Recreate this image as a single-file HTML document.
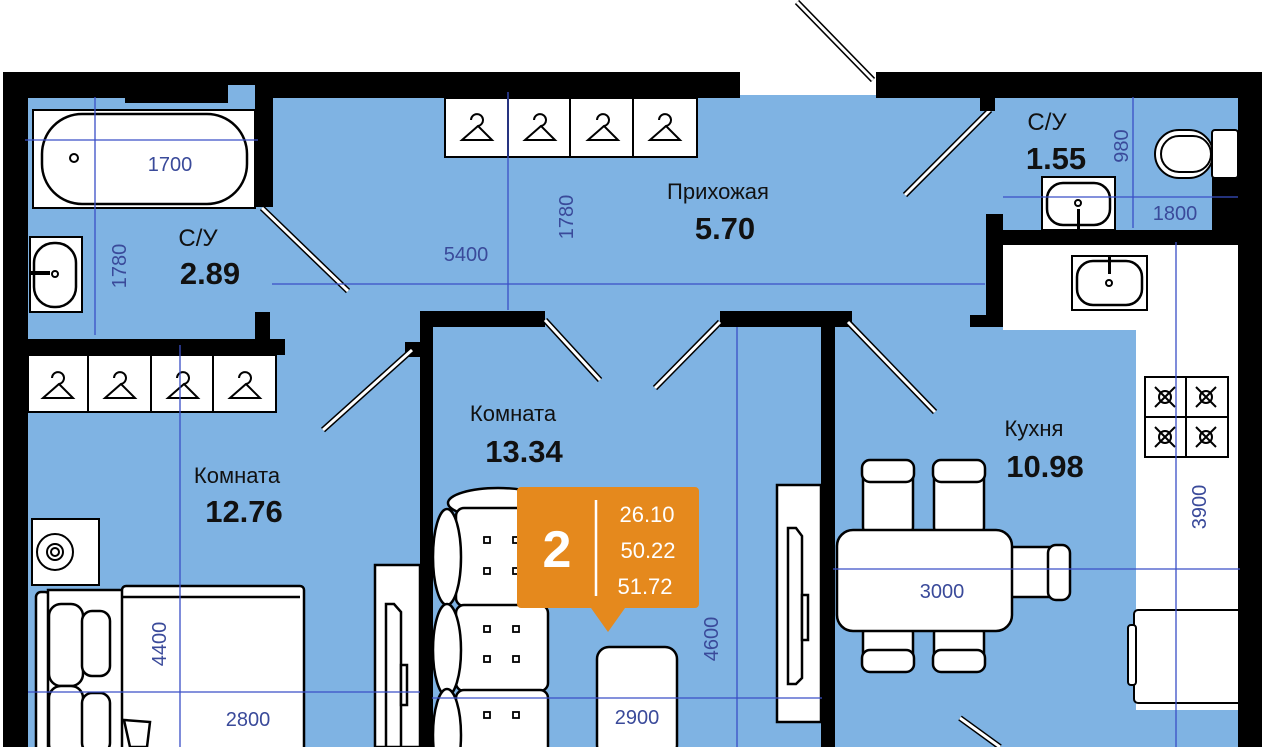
<!DOCTYPE html>
<html><head><meta charset="utf-8"><style>
html,body{margin:0;padding:0;background:#fff;width:1280px;height:747px;overflow:hidden}
svg{display:block}
text{font-family:"Liberation Sans","DejaVu Sans",sans-serif}
</style></head><body>
<svg width="1280" height="747" viewBox="0 0 1280 747" xmlns="http://www.w3.org/2000/svg">
<rect x="28" y="95" width="1212" height="652" fill="#7fb3e3"/>
<rect x="740" y="60" width="136" height="35" fill="#fff"/>
<rect x="3" y="72" width="737" height="26" fill="#000"/>
<rect x="876" y="72" width="386" height="26" fill="#000"/>
<rect x="3" y="72" width="25" height="675" fill="#000"/>
<rect x="1238" y="72" width="24" height="675" fill="#000"/>
<rect x="125" y="95" width="103" height="8" fill="#000"/>
<rect x="228" y="85" width="27" height="13" fill="#7fb3e3"/>
<line x1="797" y1="2" x2="873" y2="80" stroke="#000" stroke-width="6"/>
<line x1="797" y1="2" x2="873" y2="80" stroke="#fff" stroke-width="3"/>
<rect x="255" y="87" width="18" height="120" fill="#000"/>
<rect x="33" y="110" width="222" height="98" fill="#fff" stroke="#000" stroke-width="2"/>
<rect x="42" y="114" width="205" height="90" rx="40" fill="#fff" stroke="#000" stroke-width="2.5"/>
<circle cx="74" cy="158" r="4" fill="none" stroke="#000" stroke-width="2"/>
<rect x="30" y="237" width="52" height="75" fill="#fff" stroke="#000" stroke-width="2"/>
<rect x="34" y="243" width="42" height="64" rx="20" fill="#fff" stroke="#000" stroke-width="2.5"/>
<rect x="30" y="271" width="20" height="4" fill="#000"/>
<circle cx="55" cy="274" r="3" fill="none" stroke="#000" stroke-width="2"/>
<rect x="255" y="312" width="15" height="30" fill="#000"/>
<rect x="28" y="339" width="257" height="16" fill="#000"/>
<line x1="262" y1="208" x2="348" y2="291" stroke="#000" stroke-width="6"/>
<line x1="262" y1="208" x2="348" y2="291" stroke="#fff" stroke-width="3"/>
<g stroke="#000" stroke-width="2" fill="#fff">
<rect x="28" y="355" width="248" height="57"/>
<line x1="88" y1="355" x2="88" y2="412"/><line x1="151" y1="355" x2="151" y2="412"/><line x1="213" y1="355" x2="213" y2="412"/>
<rect x="445" y="98" width="252" height="59"/>
<line x1="508" y1="98" x2="508" y2="157"/><line x1="570" y1="98" x2="570" y2="157"/><line x1="633" y1="98" x2="633" y2="157"/>
</g>
<g fill="none" stroke="#000" stroke-width="2">
<path d="M-6,-20 a6,6 0 1 1 7,6 L-15,0 H15 L1,-14" transform="translate(477,140)"/>
<path d="M-6,-20 a6,6 0 1 1 7,6 L-15,0 H15 L1,-14" transform="translate(540,140)"/>
<path d="M-6,-20 a6,6 0 1 1 7,6 L-15,0 H15 L1,-14" transform="translate(603,140)"/>
<path d="M-6,-20 a6,6 0 1 1 7,6 L-15,0 H15 L1,-14" transform="translate(665,140)"/>
<path d="M-6,-20 a6,6 0 1 1 7,6 L-15,0 H15 L1,-14" transform="translate(58,398)"/>
<path d="M-6,-20 a6,6 0 1 1 7,6 L-15,0 H15 L1,-14" transform="translate(120,398)"/>
<path d="M-6,-20 a6,6 0 1 1 7,6 L-15,0 H15 L1,-14" transform="translate(183,398)"/>
<path d="M-6,-20 a6,6 0 1 1 7,6 L-15,0 H15 L1,-14" transform="translate(245,398)"/>
</g>
<rect x="420" y="311" width="13" height="436" fill="#000"/>
<rect x="420" y="311" width="125" height="16" fill="#000"/>
<rect x="405" y="342" width="15" height="15" fill="#000"/>
<rect x="821" y="311" width="14" height="436" fill="#000"/>
<rect x="720" y="311" width="132" height="16" fill="#000"/>
<g>
<line x1="412" y1="350" x2="323" y2="430" stroke="#000" stroke-width="6"/><line x1="412" y1="350" x2="323" y2="430" stroke="#fff" stroke-width="3"/>
<line x1="545" y1="320" x2="600" y2="380" stroke="#000" stroke-width="6"/><line x1="545" y1="320" x2="600" y2="380" stroke="#fff" stroke-width="3"/>
<line x1="720" y1="322" x2="655" y2="388" stroke="#000" stroke-width="6"/><line x1="720" y1="322" x2="655" y2="388" stroke="#fff" stroke-width="3"/>
<line x1="848" y1="322" x2="935" y2="412" stroke="#000" stroke-width="6"/><line x1="848" y1="322" x2="935" y2="412" stroke="#fff" stroke-width="3"/>
<line x1="990" y1="110" x2="905" y2="195" stroke="#000" stroke-width="6"/><line x1="990" y1="110" x2="905" y2="195" stroke="#fff" stroke-width="3"/>
<line x1="960" y1="718" x2="1000" y2="747" stroke="#000" stroke-width="6"/><line x1="960" y1="718" x2="1000" y2="747" stroke="#fff" stroke-width="3"/>
</g>
<rect x="980" y="98" width="15" height="13" fill="#000"/>
<rect x="986" y="214" width="17" height="113" fill="#000"/>
<rect x="986" y="230" width="252" height="15" fill="#000"/>
<rect x="970" y="315" width="33" height="12" fill="#000"/>
<rect x="1212" y="178" width="26" height="52" fill="#000"/>
<rect x="1155" y="130" width="58" height="48" rx="24" fill="#fff" stroke="#000" stroke-width="2"/>
<rect x="1161" y="136" width="50" height="36" rx="18" fill="#fff" stroke="#000" stroke-width="2"/>
<rect x="1212" y="130" width="26" height="48" rx="3" fill="#fff" stroke="#000" stroke-width="2"/>
<rect x="1042" y="177" width="73" height="53" fill="#fff" stroke="#000" stroke-width="2"/>
<rect x="1047" y="183" width="63" height="42" rx="16" fill="#fff" stroke="#000" stroke-width="2.5"/>
<circle cx="1078" cy="203" r="3" fill="none" stroke="#000" stroke-width="2"/><rect x="1077" y="209" width="3" height="21" fill="#000"/>
<path d="M1003,245 H1238 V710 H1136 V330 H1003 Z" fill="#fff"/>
<rect x="1072" y="256" width="75" height="54" fill="#fff" stroke="#000" stroke-width="2"/>
<rect x="1077" y="261" width="65" height="44" rx="16" fill="#fff" stroke="#000" stroke-width="2.5"/>
<rect x="1108" y="256" width="3" height="18" fill="#000"/><circle cx="1109" cy="283" r="3" fill="none" stroke="#000" stroke-width="2"/>
<g stroke="#000" stroke-width="2" fill="none">
<rect x="1145" y="377" width="83" height="80"/>
<line x1="1186" y1="377" x2="1186" y2="457"/><line x1="1145" y1="417" x2="1228" y2="417"/>
<g><circle cx="1165" cy="397" r="6"/><path d="M1155,387 L1175,407 M1175,387 L1155,407"/></g>
<g transform="translate(41,0)"><circle cx="1165" cy="397" r="6"/><path d="M1155,387 L1175,407 M1175,387 L1155,407"/></g>
<g transform="translate(0,40)"><circle cx="1165" cy="397" r="6"/><path d="M1155,387 L1175,407 M1175,387 L1155,407"/></g>
<g transform="translate(41,40)"><circle cx="1165" cy="397" r="6"/><path d="M1155,387 L1175,407 M1175,387 L1155,407"/></g>
<rect x="1134" y="610" width="110" height="93" rx="4" fill="#fff"/>
<rect x="1128" y="625" width="8" height="60" rx="3" fill="#fff"/>
</g>
<rect x="1238" y="605" width="24" height="142" fill="#000"/>
<g stroke="#000" stroke-width="2.5" fill="#fff">
<rect x="863" y="470" width="50" height="65" rx="8"/><rect x="862" y="460" width="52" height="22" rx="8"/>
<rect x="934" y="470" width="50" height="65" rx="8"/><rect x="933" y="460" width="52" height="22" rx="8"/>
<rect x="863" y="625" width="50" height="45" rx="8"/><rect x="862" y="650" width="52" height="22" rx="8"/>
<rect x="934" y="625" width="50" height="45" rx="8"/><rect x="933" y="650" width="52" height="22" rx="8"/>
<rect x="1005" y="547" width="55" height="50" rx="8"/><rect x="1048" y="545" width="22" height="55" rx="8"/>
<rect x="837" y="530" width="175" height="101" rx="16"/>
</g>
<g stroke="#000" stroke-width="2.5" fill="#fff">
<rect x="777" y="485" width="44" height="237"/>
<path d="M788,528 H796 L802,536 V678 L796,684 H788 Z"/>
<rect x="802" y="595" width="6" height="45"/>
<rect x="375" y="565" width="45" height="182"/>
<path d="M386,604 H394 L401,612 V747 H386 Z"/>
<rect x="401" y="665" width="6" height="40"/>
</g>
<rect x="32" y="519" width="67" height="66" fill="#fff" stroke="#000" stroke-width="2"/>
<circle cx="55" cy="552" r="18" fill="none" stroke="#000" stroke-width="2"/>
<circle cx="55" cy="552" r="8" fill="none" stroke="#000" stroke-width="2"/>
<circle cx="55" cy="552" r="4" fill="none" stroke="#000" stroke-width="2"/>
<g stroke="#000" stroke-width="2.5" fill="#fff">
<rect x="36" y="592" width="14" height="160" rx="5"/>
<rect x="48" y="590" width="75" height="160"/>
<rect x="122" y="586" width="182" height="170" rx="4"/>
<line x1="122" y1="597" x2="300" y2="597"/>
<rect x="49" y="604" width="34" height="82" rx="12"/><rect x="82" y="611" width="28" height="65" rx="10"/>
<rect x="49" y="686" width="34" height="70" rx="12"/><rect x="82" y="693" width="28" height="60" rx="10"/>
<path d="M124,720 L150,722 L147,747 L130,747 Z"/>
</g>
<g stroke="#000" stroke-width="2.5" fill="#fff">
<ellipse cx="498" cy="503" rx="50" ry="15"/>
<rect x="456" y="508" width="92" height="98" rx="8"/>
<rect x="456" y="605" width="92" height="86" rx="8"/>
<rect x="456" y="690" width="92" height="70" rx="8"/>
<ellipse cx="447" cy="557" rx="14" ry="48"/>
<ellipse cx="447" cy="650" rx="14" ry="46"/>
<ellipse cx="447" cy="735" rx="14" ry="46"/>
</g>
<g fill="none" stroke="#000" stroke-width="1.8">
<rect x="484" y="537" width="6" height="6"/><rect x="513" y="537" width="6" height="6"/>
<rect x="484" y="568" width="6" height="6"/><rect x="513" y="568" width="6" height="6"/>
<rect x="484" y="626" width="6" height="6"/><rect x="513" y="626" width="6" height="6"/>
<rect x="484" y="656" width="6" height="6"/><rect x="513" y="656" width="6" height="6"/>
<rect x="484" y="712" width="6" height="6"/><rect x="513" y="712" width="6" height="6"/>
</g>
<rect x="597" y="647" width="80" height="110" rx="12" fill="#fff" stroke="#000" stroke-width="2.5"/>
<g stroke="#3a4fc6" stroke-width="1.3">
<line x1="95" y1="97" x2="95" y2="335"/>
<line x1="25" y1="140" x2="258" y2="140"/>
<line x1="272" y1="284" x2="985" y2="284"/>
<line x1="508" y1="92" x2="508" y2="310"/>
<line x1="1133" y1="97" x2="1133" y2="228"/>
<line x1="1003" y1="197" x2="1238" y2="197"/>
<line x1="1176" y1="242" x2="1176" y2="747"/>
<line x1="833" y1="569" x2="1240" y2="569"/>
<line x1="737" y1="327" x2="737" y2="747"/>
<line x1="432" y1="698" x2="822" y2="698"/>
<line x1="180" y1="345" x2="180" y2="747"/>
<line x1="28" y1="692" x2="420" y2="692"/>
</g>
<g fill="#3a4a9a" font-size="20">
<text x="170" y="171" text-anchor="middle">1700</text>
<text x="466" y="261" text-anchor="middle">5400</text>
<text x="1175" y="220" text-anchor="middle">1800</text>
<text x="942" y="598" text-anchor="middle">3000</text>
<text x="637" y="724" text-anchor="middle">2900</text>
<text x="248" y="726" text-anchor="middle">2800</text>
<text transform="translate(126,266) rotate(-90)" text-anchor="middle">1780</text>
<text transform="translate(573,217) rotate(-90)" text-anchor="middle">1780</text>
<text transform="translate(1128,146) rotate(-90)" text-anchor="middle">980</text>
<text transform="translate(1206,507) rotate(-90)" text-anchor="middle">3900</text>
<text transform="translate(718,639) rotate(-90)" text-anchor="middle">4600</text>
<text transform="translate(166,644) rotate(-90)" text-anchor="middle">4400</text>
</g>
<g fill="#111" text-anchor="middle">
<text x="718" y="199" font-size="22">Прихожая</text>
<text x="725" y="239" font-size="31" font-weight="bold">5.70</text>
<text x="198" y="246" font-size="24">С/У</text>
<text x="210" y="284" font-size="31" font-weight="bold">2.89</text>
<text x="1047" y="130" font-size="24">С/У</text>
<text x="1056" y="169" font-size="31" font-weight="bold">1.55</text>
<text x="513" y="421" font-size="22">Комната</text>
<text x="524" y="462" font-size="31" font-weight="bold">13.34</text>
<text x="237" y="483" font-size="22">Комната</text>
<text x="244" y="522" font-size="31" font-weight="bold">12.76</text>
<text x="1034" y="436" font-size="22">Кухня</text>
<text x="1045" y="477" font-size="31" font-weight="bold">10.98</text>
</g>
<path d="M521,487 H695 a4,4 0 0 1 4,4 V604 a4,4 0 0 1 -4,4 H625 L608,632 L591,608 H521 a4,4 0 0 1 -4,-4 V491 a4,4 0 0 1 4,-4 Z" fill="#e5891d"/>
<line x1="596" y1="500" x2="596" y2="596" stroke="#fff" stroke-width="2.5"/>
<text x="557" y="567" fill="#fff" font-size="52" font-weight="bold" text-anchor="middle">2</text>
<g fill="#fff" font-size="22" text-anchor="middle">
<text x="647" y="522">26.10</text>
<text x="648" y="558">50.22</text>
<text x="645" y="594">51.72</text>
</g>
</svg>
</body></html>
